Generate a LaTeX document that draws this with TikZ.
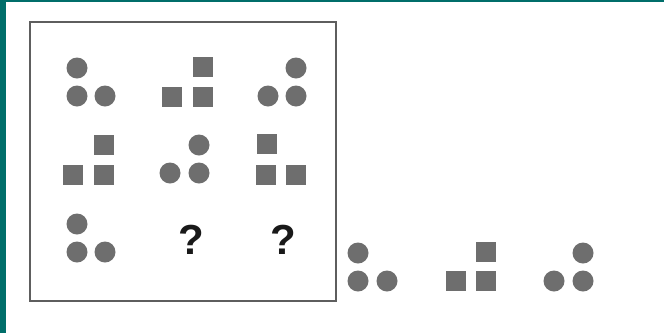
\documentclass[tikz,border=0pt]{standalone}
\usepackage{fontspec}
\setmainfont{Liberation Sans}
\begin{document}
\begin{tikzpicture}[x=1pt,y=-1pt,
  shp/.style={fill=shapegray,draw=none},
  qmark/.style={font=\fontsize{42}{42}\selectfont\bfseries,text=black!90,inner sep=0pt}]
\definecolor{shapegray}{HTML}{6E6E6E}
\definecolor{teal1}{HTML}{006E6A}
\definecolor{framegray}{HTML}{5E5E5E}
\useasboundingbox (0,0) rectangle (664,333);
\fill[white] (0,0) rectangle (664,333);
\fill[teal1] (0,0) rectangle (6,333);
\fill[teal1] (0,0) rectangle (664,2);
\draw[framegray,line width=1.8pt] (30,22) rectangle (336,301);
% macros for shapes
\newcommand\mycirc[2]{\fill[shp] (#1,#2) circle (10.5);}
\newcommand\mysq[2]{\fill[shp] (#1-10,#2-10) rectangle (#1+10,#2+10);}
% row 1
\mycirc{77}{68}\mycirc{77}{96}\mycirc{105}{96}
\mysq{203}{67}\mysq{172}{97}\mysq{203}{97}
\mycirc{296}{68}\mycirc{268}{96}\mycirc{296}{96}
% row 2
\mysq{104}{145}\mysq{73}{175}\mysq{104}{175}
\mycirc{199}{145}\mycirc{170}{173}\mycirc{199}{173}
\mysq{267}{144}\mysq{266}{175}\mysq{296}{175}
% row 3
\mycirc{77}{224}\mycirc{77}{252}\mycirc{105}{252}
\node[qmark] (q1) at (191,240) {?};
\node[qmark] (q2) at (283,240) {?};
% answers
\mycirc{358}{253}\mycirc{358}{281}\mycirc{387}{281}
\mysq{486}{252}\mysq{456}{281}\mysq{486}{281}
\mycirc{583}{253}\mycirc{554}{281}\mycirc{583}{281}
\end{tikzpicture}
\end{document}
